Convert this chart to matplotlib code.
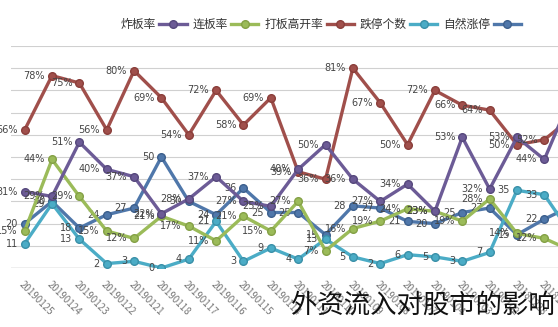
import matplotlib
matplotlib.use('Agg')
import matplotlib.pyplot as plt

plt.rcParams['font.family'] = ['Noto Sans CJK SC', 'DejaVu Sans']

# 日期（图中为镜像顺序，从左到右）
dates = ['20190125', '20190124', '20190123', '20190122', '20190121',
         '20190118', '20190117', '20190116', '20190115', '20190114',
         '20190111', '20190110', '20190109', '20190108', '20190107',
         '20190104', '20190103', '20190102', '20181228', '20181227',
         '20181226']

# 百分比系列 (%)
zhaban = [31, 29, 51, 40, 37, 22, 28, 37, 27, 25, 40, 50, 36, 27, 34, 23, 53, 32, 53, 44, 70]
lianban = [15, 44, 29, 15, 12, 21, 17, 11, 21, 15, 27, 7, 16, 19, 24, 23, 19, 28, 14, 12, 7]
gaokai = [56, 78, 75, 56, 80, 69, 54, 72, 58, 69, 39, 36, 81, 67, 50, 72, 66, 64, 50, 52, 61]

# 个数系列
dieting = [11, 29, 13, 2, 3, 0, 4, 21, 3, 9, 4, 13, 5, 2, 6, 5, 3, 7, 35, 33, 15]
ziran = [20, 30, 18, 24, 27, 50, 30, 24, 36, 25, 25, 15, 28, 27, 21, 20, 25, 27, 15, 22, 28]

fig = plt.figure(figsize=(5.58, 3.27), dpi=100)
ax = fig.add_axes([11 / 558, 1 - 268 / 327, 1 - 11 / 558, 222 / 327])
ax2 = ax.twinx()

x = list(range(len(dates)))

c_zhaban = '#6c5b96'
c_lianban = '#9bbb59'
c_gaokai = '#a04f4b'
c_dieting = '#4bacc6'
c_ziran = '#4f77aa'

lw = 2.4
ms = 5.5


def add_labels(axis, ys, fmt):
    for xi, yi in zip(x, ys):
        axis.annotate(fmt.format(yi), (xi, yi), xytext=(-5, 0), textcoords='offset points',
                      ha='right', va='center', fontsize=7, color='#454545',
                      family=['DejaVu Sans'])


ax.plot(x, ziran, '-o', color=c_ziran, lw=lw, ms=ms, mec='#3c5f8c', label='自然涨停', zorder=3)
ax.plot(x, dieting, '-o', color=c_dieting, lw=lw, ms=ms, mec='#3a90a8', label='跌停个数', zorder=3)
ax2.plot(x, gaokai, '-o', color=c_gaokai, lw=lw, ms=ms, mec='#8a3e3a', label='打板高开率', zorder=3)
ax2.plot(x, lianban, '-o', color=c_lianban, lw=lw, ms=ms, mec='#84a046', label='连板率', zorder=3)
ax2.plot(x, zhaban, '-o', color=c_zhaban, lw=lw, ms=ms, mec='#56487c', label='炸板率', zorder=3)

add_labels(ax, ziran, '{}')
add_labels(ax, dieting, '{}')
add_labels(ax2, gaokai, '{}%')
add_labels(ax2, lianban, '{}%')
add_labels(ax2, zhaban, '{}%')

ax.set_xlim(-0.5, 19.5)
ax.set_ylim(0, 100)
ax2.set_ylim(0, 90)
ax.set_yticks(range(0, 101, 10))
ax.tick_params(axis='y', length=0, pad=8, labelsize=8, labelcolor='#555555')
ax2.set_yticks([])
ax.grid(axis='y', color='#d0d0d0', lw=0.8)
ax.set_axisbelow(True)
for a in (ax, ax2):
    for s in a.spines.values():
        s.set_visible(False)
ax.axhline(0, color='#bbbbbb', lw=1)

ax.set_xticks(x[:20])
ax.set_xticklabels(dates[:20], rotation=-45, ha='left', rotation_mode='anchor',
                   fontsize=7, color='#777777')
ax.tick_params(axis='x', length=0, pad=8)

h1, l1 = ax.get_legend_handles_labels()
h2, l2 = ax2.get_legend_handles_labels()
# 镜像顺序：炸板率 连板率 打板高开率 跌停个数 自然涨停
handles = h2[::-1] + h1[::-1]
labels = l2[::-1] + l1[::-1]
fig.legend(handles, labels, loc='center', bbox_to_anchor=(0.575, 0.925), ncol=5,
           frameon=False, markerfirst=False, fontsize=8.5, handlelength=2.3,
           columnspacing=0.5, handletextpad=0.3, labelcolor='#333333')

fig.text(0.995, 0.025, '外资流入对股市的影响', ha='right', va='bottom', fontsize=19,
         color='#111111')

fig.savefig('out.png', dpi=100, facecolor='white')
